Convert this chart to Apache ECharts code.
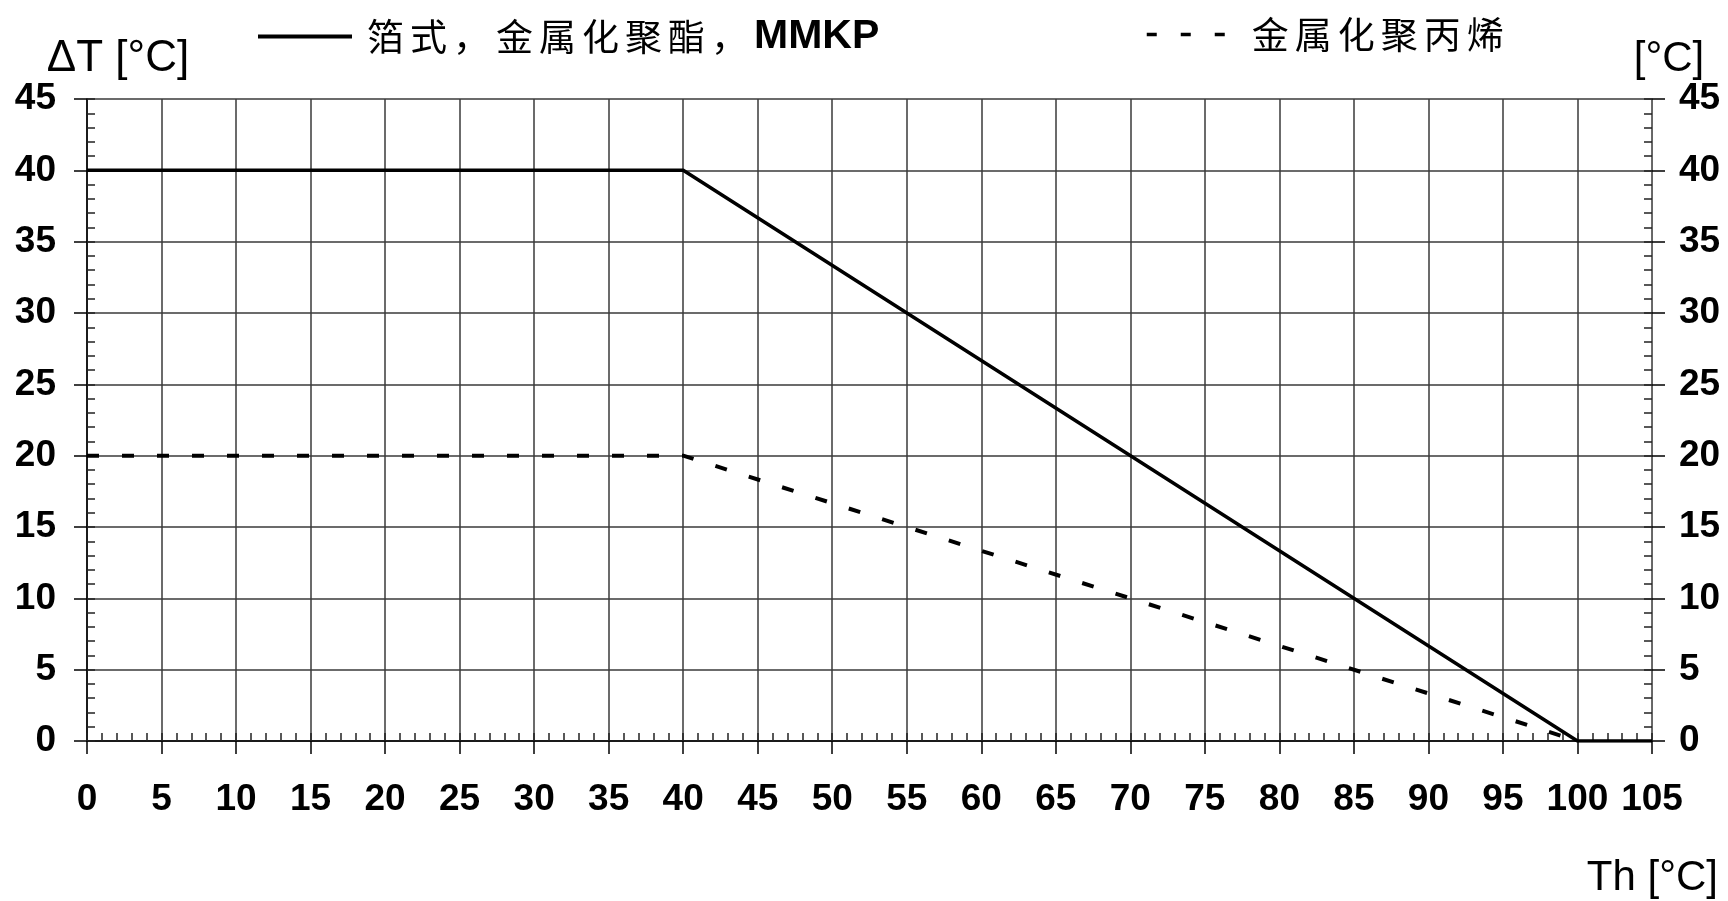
<!DOCTYPE html>
<html>
<head>
<meta charset="utf-8">
<script src="https://cdn.jsdelivr.net/npm/echarts@6/dist/echarts.min.js"></script>
<style>
html,body{margin:0;padding:0;background:#fff;}
#chart{width:1728px;height:901px;}
</style>
</head>
<body>
<div id="chart"></div>
<script>
// ---- data ----
const seriesNames = ['箔式，金属化聚酯，MMKP', '金属化聚丙烯'];
const foilTh = [0, 40, 100, 105];
const foilDT = [40, 40, 0, 0];
const ppTh = [0, 40, 100];
const ppDT = [20, 20, 0];
const xMin = 0, xMax = 105, xStep = 5;
const yMin = 0, yMax = 45, yStep = 5;
const yName = 'ΔT [°C]';
const yNameRight = '[°C]';
const xName = 'Th [°C]';

const pair = (xs, ys) => xs.map((x, i) => [x, ys[i]]);

const FONT = "'Liberation Sans', Arial, sans-serif";
const CJK = "'Noto Sans CJK SC', sans-serif";
const gridColor = '#3a3a3a';

function cjkRich(str) {
  return str.split('').map(ch => '{c|' + ch + '}').join('');
}

const chart = echarts.init(document.getElementById('chart'), null, {renderer: 'canvas'});

const majorLabel = {
  show: true, color: '#000', fontFamily: FONT, fontWeight: 'bold', fontSize: 37
};

// axis used only to draw the short inward minor ticks (shifted inside by offset)
function minorAxis(pos, min, max) {
  return {
    type: 'value', min: min, max: max, interval: 1, position: pos, offset: -8,
    axisLine: {show: false, onZero: false},
    axisTick: {show: true, inside: false, length: 8, lineStyle: {color: '#222', width: 1.5}},
    axisLabel: {show: false},
    splitLine: {show: false}
  };
}

const option = {
  backgroundColor: '#fff',
  animation: false,
  grid: {left: 87, right: 76, top: 99, bottom: 160, containLabel: false},
  legend: [
    {
      data: [seriesNames[0]],
      left: 256, top: 16, padding: 0,
      itemWidth: 94, itemHeight: 16,
      lineStyle: {width: 4, color: '#000'},
      itemStyle: {color: 'transparent', borderWidth: 0, opacity: 0},
      formatter: () => '{s|}' + cjkRich('箔式，金属化聚酯，') + '{b|MMKP}',
      textStyle: {
        rich: {
          s: {width: 10},
          c: {fontFamily: CJK, fontSize: 37, width: 43, color: '#000'},
          b: {fontFamily: FONT, fontWeight: 'bold', fontSize: 41, color: '#000'}
        }
      }
    },
    {
      data: [seriesNames[1]],
      left: 1145, top: 16, padding: 0,
      itemWidth: 78, itemHeight: 16,
      lineStyle: {width: 3.5, color: '#000', type: [10, 24]},
      itemStyle: {color: 'transparent', borderWidth: 0, opacity: 0},
      formatter: () => '{s|}' + cjkRich('金属化聚丙烯'),
      textStyle: {
        rich: {
          s: {width: 22},
          c: {fontFamily: CJK, fontSize: 37, width: 43, color: '#000'}
        }
      }
    }
  ],
  xAxis: [
    {
      type: 'value', min: xMin, max: xMax, interval: xStep, position: 'bottom',
      name: xName, nameLocation: 'end', nameGap: 66,
      nameTextStyle: {fontFamily: FONT, fontSize: 42, color: '#000', align: 'right', verticalAlign: 'top', padding: [116, 0, 0, 0]},
      axisLine: {show: true, onZero: false, lineStyle: {color: '#000', width: 1.5}},
      axisTick: {show: true, inside: false, length: 13, lineStyle: {color: '#000', width: 1.5}},
      axisLabel: Object.assign({margin: 40}, majorLabel),
      splitLine: {show: true, lineStyle: {color: gridColor, width: 1.5}}
    },
    minorAxis('bottom', xMin, xMax)
  ],
  yAxis: [
    {
      type: 'value', min: yMin, max: yMax, interval: yStep, position: 'left',
      name: yName, nameLocation: 'end', nameGap: 14,
      nameTextStyle: {fontFamily: FONT, fontSize: 44, color: '#000', align: 'center', padding: [0, 0, 0, 62]},
      axisLine: {show: true, onZero: false, lineStyle: {color: '#000', width: 1.5}},
      axisTick: {show: true, inside: false, length: 13, lineStyle: {color: '#000', width: 1.5}},
      axisLabel: Object.assign({margin: 31}, majorLabel),
      splitLine: {show: true, lineStyle: {color: gridColor, width: 1.5}}
    },
    minorAxis('left', yMin, yMax),
    {
      type: 'value', min: yMin, max: yMax, interval: yStep, position: 'right',
      name: yNameRight, nameLocation: 'end', nameGap: 14,
      nameTextStyle: {fontFamily: FONT, fontSize: 42, color: '#000', align: 'center', padding: [0, 0, 0, 34]},
      axisLine: {show: true, onZero: false, lineStyle: {color: '#666', width: 1}},
      axisTick: {show: true, inside: false, length: 13, lineStyle: {color: '#000', width: 1.5}},
      axisLabel: Object.assign({margin: 27}, majorLabel),
      splitLine: {show: false}
    },
    minorAxis('right', yMin, yMax)
  ],
  series: [
    {
      name: seriesNames[0], type: 'line', xAxisIndex: 0, yAxisIndex: 0,
      data: pair(foilTh, foilDT), showSymbol: false, symbol: 'none',
      lineStyle: {color: '#000', width: 3.5, type: 'solid'},
      itemStyle: {color: '#000'}, z: 5
    },
    {
      name: seriesNames[1], type: 'line', xAxisIndex: 0, yAxisIndex: 0,
      data: pair(ppTh, ppDT), showSymbol: false, symbol: 'none',
      lineStyle: {color: '#000', width: 4, type: [12, 23]},
      itemStyle: {color: '#000'}, z: 4
    }
  ]
};
chart.setOption(option);
</script>
</body>
</html>
